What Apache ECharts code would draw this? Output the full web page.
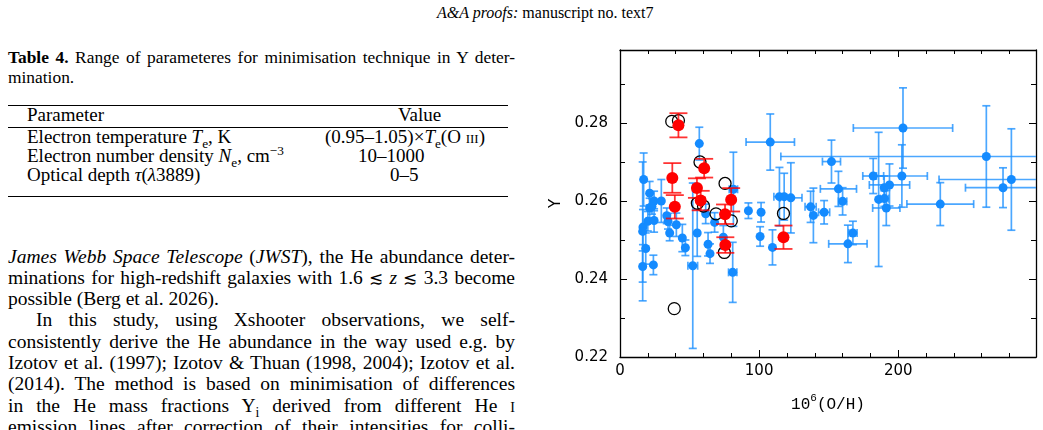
<!DOCTYPE html>
<html>
<head>
<meta charset="utf-8">
<title>Y vs O/H</title>
<script src="https://cdn.jsdelivr.net/npm/echarts@6/dist/echarts.min.js"></script>
<style>
body{margin:0;width:1043px;height:430px;overflow:hidden;background:#fff;color:#000;position:relative;font-family:"Liberation Serif","Times New Roman",serif}
.a{position:absolute;white-space:nowrap}
.j{position:absolute;left:8px;width:507px;text-align:justify;text-align-last:justify}
.b{font-size:19.5px;line-height:21px}
.rule{position:absolute;left:8px;width:500px;height:1.3px;background:#000}
.t{font-size:19px;line-height:20px}
.sc{font-variant:small-caps}
.le{font-family:"DejaVu Serif",serif;font-size:85%}
sub,sup{font-size:70%;line-height:0}
</style>
</head>
<body>
<div class="a" style="left:437px;top:3px;font-size:16px;line-height:20px"><i>A&amp;A proofs:</i> manuscript no. text7</div>

<div class="j" style="top:47px;font-size:17.4px;line-height:20px"><b>Table 4.</b> Range of parameteres for minimisation technique in Y deter-</div>
<div class="a" style="left:8px;top:67px;font-size:17.4px;line-height:20px">mination.</div>

<div class="rule" style="top:104.5px"></div>
<div class="a t" style="left:27px;top:105px">Parameter</div>
<div class="a t" style="left:398px;top:105px">Value</div>
<div class="rule" style="top:126.5px"></div>
<div class="a t" style="left:27px;top:127px">Electron temperature <i>T</i><sub>e</sub>, K</div>
<div class="a t" style="left:325px;top:127px">(0.95–1.05)×<i>T</i><sub>e</sub>(O <span class="sc">iii</span>)</div>
<div class="a t" style="left:27px;top:146px">Electron number density <i>N</i><sub>e</sub>, cm<sup>−3</sup></div>
<div class="a t" style="left:358px;top:146px">10–1000</div>
<div class="a t" style="left:27px;top:165px">Optical depth <i>τ</i>(<i>λ</i>3889)</div>
<div class="a t" style="left:390px;top:165px">0–5</div>
<div class="rule" style="top:196px"></div>

<div class="j b" style="top:246px"><i>James Webb Space Telescope</i> (<i>JWST</i>), the He abundance deter-</div>
<div class="j b" style="top:267px">minations for high-redshift galaxies with 1.6 <span class="le">≲</span> <i>z</i> <span class="le">≲</span> 3.3 become</div>
<div class="a b" style="left:8px;top:288px">possible (Berg et al. 2026).</div>
<div class="j b" style="top:309px;left:36px;width:479px">In this study, using Xshooter observations, we self-</div>
<div class="j b" style="top:331px">consistently derive the He abundance in the way used e.g. by</div>
<div class="j b" style="top:352px">Izotov et al. (1997); Izotov &amp; Thuan (1998, 2004); Izotov et al.</div>
<div class="j b" style="top:373px">(2014). The method is based on minimisation of differences</div>
<div class="j b" style="top:395px">in the He mass fractions Y<sub>i</sub> derived from different He <span class="sc">i</span></div>
<div class="j b" style="top:416px">emission lines after correction of their intensities for colli-</div>

<div id="main" style="position:absolute;left:520px;top:0;width:523px;height:430px"></div>
<script type="text/javascript">
// axis ranges
var XMAX = 299, YMIN = 0.22, YMAX = 0.2987;

// blue points: 10^6 O/H, Y, x error, Y error
var blueX = [17, 16.5, 16.3, 16.3, 18.5, 24, 21.3, 24.5, 29.7, 21.3, 23, 20, 24.5, 34.5, 40.5, 35.7, 44.8, 47, 55.5, 52.3,
  57, 63.3, 64.7, 68, 61.6, 74.3, 81.5, 81, 92.3, 101.4, 100.7, 109.6, 108, 114.6, 118, 122.8, 137, 139, 146.7, 152,
  157, 160, 163.8, 167.4, 182, 185.9, 189.9, 193.7, 190, 191.4, 203.4, 202.6, 230.2, 263.3, 275.3, 281.3, 33.6];
var blueY = [0.2655, 0.2533, 0.2522, 0.2432, 0.2478, 0.2436, 0.2620, 0.2600, 0.2600, 0.2582, 0.2586, 0.2548, 0.2550, 0.2548, 0.2539, 0.2518, 0.2505, 0.2480, 0.2518, 0.2434,
  0.2747, 0.2489, 0.2465, 0.2545, 0.2567, 0.2507, 0.2630, 0.2417, 0.2575, 0.2571, 0.2509, 0.2481, 0.2751, 0.2611, 0.2611, 0.2608, 0.2585, 0.2563, 0.2571, 0.2701,
  0.2631, 0.2599, 0.2490, 0.2518, 0.2664, 0.2604, 0.2634, 0.2641, 0.2606, 0.2582, 0.2787, 0.2664, 0.2592, 0.2714, 0.2634, 0.2655, 0.2562];
var blueXErr = [0, 0, 0, 0, 0, 0, 0, 0, 0, 0, 0, 0, 0, 0, 0, 0, 0, 0, 0, 3.5,
  0, 0, 0, 0, 0, 0, 3, 3, 0, 0, 0, 0, 17.4, 4, 0, 8, 4, 0, 4, 6.5,
  13, 3, 13.8, 3, 7.5, 0, 0, 14.5, 3, 9.8, 35.7, 18.3, 24, 147.7, 27, 52, 0];
var blueYErr = [0.0068, 0.0045, 0.0178, 0.004, 0.004, 0.0025, 0.003, 0.0025, 0.0055, 0.0025, 0.002, 0.0025, 0.003, 0.002, 0.003, 0.002, 0.0035, 0.002, 0.006, 0.0212,
  0.0042, 0.003, 0.0025, 0.0025, 0.0025, 0.003, 0.0095, 0.0077, 0.002, 0.0025, 0.0025, 0.0045, 0.0072, 0.0075, 0.006, 0.009, 0.004, 0.007, 0.003, 0.0055,
  0.0045, 0.0035, 0.0048, 0.003, 0.0045, 0.0172, 0.003, 0.0054, 0.002, 0.0045, 0.0103, 0.008, 0.0055, 0.013, 0.0051, 0.013, 0.002];

// red points
var redX = [42, 37.6, 60.5, 55.3, 58, 79.9, 39.4, 75.5, 75.7, 117.5];
var redY = [0.2794, 0.2659, 0.2684, 0.2633, 0.2601, 0.2603, 0.2585, 0.2566, 0.2487, 0.2507];
var redYErr = [0.0031, 0.0038, 0.0024, 0.0025, 0.0025, 0.003, 0.003, 0.0025, 0.002, 0.003];

// open black circles
var openX = [37.2, 42, 57.5, 75.5, 55.6, 60, 69, 80, 117.5, 75, 39];
var openY = [0.2804, 0.2806, 0.2700, 0.2645, 0.2594, 0.2587, 0.2567, 0.2549, 0.2568, 0.2468, 0.2324];

var blueRows = blueX.map(function (x, i) { return [x, blueY[i], blueXErr[i], blueYErr[i]]; });
var redRows = redX.map(function (x, i) { return [x, redY[i], 0, redYErr[i]]; });
var openRows = openX.map(function (x, i) { return [x, openY[i]]; });

function errSeries(rows, color, width, cap, z) {
    return {
        type: 'custom', z: z, clip: true, silent: true,
        data: rows,
        encode: { x: 0, y: 1 },
        renderItem: function (params, api) {
            var x = api.value(0), y = api.value(1), xe = api.value(2), ye = api.value(3);
            var c = api.coord([x, y]);
            var st = { stroke: color, lineWidth: width };
            var ch = [];
            function seg(x1, y1, x2, y2) {
                ch.push({ type: 'line', shape: { x1: x1, y1: y1, x2: x2, y2: y2 }, style: st });
            }
            if (ye > 0) {
                var lo = api.coord([x, y - ye]), hi = api.coord([x, y + ye]);
                seg(c[0], lo[1], c[0], hi[1]);
                seg(c[0] - cap, lo[1], c[0] + cap, lo[1]);
                seg(c[0] - cap, hi[1], c[0] + cap, hi[1]);
            }
            if (xe > 0) {
                var l = api.coord([x - xe, y]), r = api.coord([x + xe, y]);
                seg(l[0], c[1], r[0], c[1]);
                seg(l[0], c[1] - cap, l[0], c[1] + cap);
                seg(r[0], c[1] - cap, r[0], c[1] + cap);
            }
            return { type: 'group', children: ch };
        }
    };
}

var line = { show: true, onZero: false, lineStyle: { color: '#000', width: 1.3 } };
var noLine = { show: false, onZero: false };
function tick(len) { return { show: true, inside: true, length: len, lineStyle: { color: '#000', width: 1 } }; }
var lbl = { fontFamily: 'DejaVu Sans', fontSize: 15, color: '#000' };

function xAx(pos, step, len, main) {
    return {
        type: 'value', position: pos, min: 0, max: XMAX, interval: step,
        axisLine: main ? line : noLine, axisTick: tick(len), splitLine: { show: false },
        axisLabel: (main && pos === 'bottom') ? Object.assign({ margin: 7, showMaxLabel: false }, lbl) : { show: false }
    };
}
function yAx(pos, step, len, main) {
    return {
        type: 'value', position: pos, min: YMIN, max: YMAX, interval: step,
        axisLine: main ? line : noLine, axisTick: tick(len), splitLine: { show: false },
        axisLabel: (main && pos === 'left') ? Object.assign({ margin: 12, showMaxLabel: false,
            formatter: function (v) { return v.toFixed(2); } }, lbl) : { show: false }
    };
}

var xs = [xAx('bottom', 100, 7, true), xAx('bottom', 20, 4, false), xAx('top', 100, 7, true), xAx('top', 20, 4, false)];
xs[0].name = '10{s|6}(O/H)';
xs[0].nameLocation = 'middle';
xs[0].nameGap = 40;
xs[0].nameTextStyle = { fontFamily: 'Liberation Mono', fontSize: 16, color: '#000',
    rich: { s: { fontFamily: 'Liberation Mono', fontSize: 11, color: '#000', lineHeight: 11, padding: [0, 0, 14, 0] } } };

var ys = [yAx('left', 0.02, 7, true), yAx('left', 0.01, 5, false), yAx('right', 0.02, 7, true), yAx('right', 0.01, 5, false)];
ys[0].name = 'Y';
ys[0].nameLocation = 'middle';
ys[0].nameGap = 49;
ys[0].nameTextStyle = { fontFamily: 'DejaVu Sans', fontSize: 15, color: '#000' };

var myChart = echarts.init(document.getElementById('main'));
myChart.setOption({
    animation: false,
    grid: { left: 100, right: 7, top: 50, bottom: 73 },
    xAxis: xs,
    yAxis: ys,
    series: [
        errSeries(blueRows, 'rgba(30,145,255,0.8)', 1.7, 4, 1),
        { type: 'scatter', z: 2, data: blueRows, symbolSize: 9, itemStyle: { color: '#148bff', opacity: 1 }, silent: true },
        { type: 'scatter', z: 3, data: openRows, symbolSize: 12,
          itemStyle: { color: 'rgba(0,0,0,0)', borderColor: '#000', borderWidth: 1.3, opacity: 1 }, silent: true },
        errSeries(redRows, 'rgba(255,0,0,0.8)', 1.8, 9, 4),
        { type: 'scatter', z: 5, data: redRows, symbolSize: 12, itemStyle: { color: '#ff0000', opacity: 1 }, silent: true }
    ]
});
</script>
</body>
</html>
